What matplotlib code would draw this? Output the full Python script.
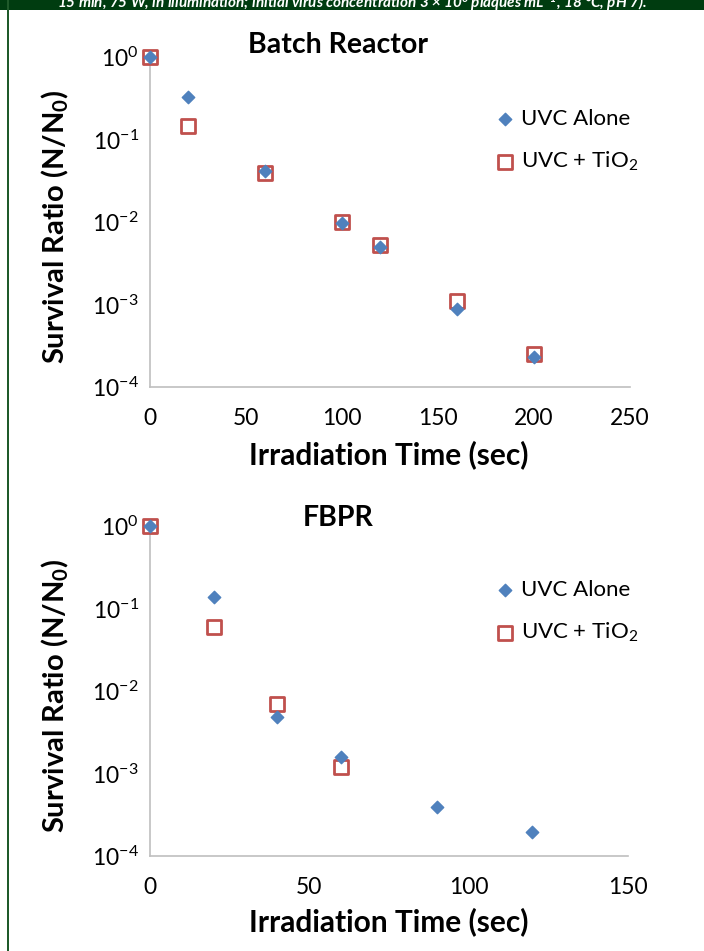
import matplotlib
matplotlib.use("Agg")
import matplotlib.pyplot as plt
from matplotlib.patches import Rectangle
from matplotlib.ticker import LogLocator, NullLocator

plt.rcParams['font.family'] = ['Lato', 'DejaVu Sans']
plt.rcParams['mathtext.fontset'] = 'custom'
plt.rcParams['mathtext.rm'] = 'Lato'
plt.rcParams['mathtext.default'] = 'regular'

# batch reactor data (survival ratio N/N0)
batch_time = [0, 20, 60, 100, 120, 160, 200]
batch_uvc = [1.0, 0.327, 0.0415, 0.0097, 0.00498, 0.00088, 0.000231]
batch_tio2 = [1.0, 0.146, 0.039, 0.0100, 0.00526, 0.0011, 0.00025]

# FBPR data
fbpr_time_uvc = [0, 20, 40, 60, 90, 120]
fbpr_uvc = [1.0, 0.138, 0.00484, 0.00158, 0.000393, 0.000195]
fbpr_time_tio2 = [0, 20, 40, 60]
fbpr_tio2 = [1.0, 0.0597, 0.00695, 0.0012]

blue = "#4F81BD"
red = "#C0504D"
grey = "#BFBFBF"

fig = plt.figure(figsize=(7.04, 9.51), dpi=100)
fig.patch.set_facecolor("white")

# dark green band and border from the page
fig.patches.append(Rectangle((0, 1 - 10/951), 1, 10/951, transform=fig.transFigure,
                             facecolor="#003C10", edgecolor="none", zorder=0))
fig.patches.append(Rectangle((7/704, 0), 2/704, 1, transform=fig.transFigure,
                             facecolor="#1F5A2A", edgecolor="none", zorder=0))
fig.text(0.5, 1 - 3/951, "15 min, 75 W, in illumination; initial virus concentration 3 \u00d7 10$^6$ plaques mL$^{-1}$, 18 \u00b0C, pH 7).",
         color="white", fontsize=11, fontweight="bold", style="italic",
         ha="center", va="center", clip_on=True)


def make_panel(rect, xmax, title, title_y, xlabel_y, ylabel_y):
    ax = fig.add_axes(rect)
    ax.set_yscale("log")
    ax.set_ylim(1e-4, 1)
    ax.set_xlim(0, xmax)
    ax.yaxis.set_major_locator(LogLocator(base=10, numticks=10))
    ax.yaxis.set_minor_locator(NullLocator())
    for s in ["top", "right"]:
        ax.spines[s].set_visible(False)
    for s in ["left", "bottom"]:
        ax.spines[s].set_color(grey)
        ax.spines[s].set_linewidth(1.2)
    ax.tick_params(axis="both", length=0, labelsize=16.5)
    ax.tick_params(axis="x", pad=15)
    ax.tick_params(axis="y", pad=8)
    fig.text(338/704, 1 - title_y/951, title, fontsize=20.5, fontweight="bold",
             ha="center", va="center")
    fig.text(389/704, 1 - xlabel_y/951, "Irradiation Time (sec)", fontsize=21.5,
             fontweight="bold", ha="center", va="center")
    fig.text(55/704, 1 - ylabel_y/951, "Survival Ratio (N/N$_0$)", fontsize=21,
             fontweight="bold", ha="center", va="center", rotation=90)
    return ax


ax1 = make_panel([150/704, 1 - 387/951, 480/704, 330/951], 250,
                 "Batch Reactor", 45, 455, 227)
ax1.set_xticks([0, 50, 100, 150, 200, 250])
ax1.scatter(batch_time, batch_tio2, marker="s", s=90, facecolor="white",
            edgecolor=red, linewidth=2, zorder=3, clip_on=False, label="UVC + TiO$_2$")
ax1.scatter(batch_time, batch_uvc, marker="D", s=40, color=blue, zorder=4,
            clip_on=False, label="UVC Alone")

ax2 = make_panel([150/704, 1 - 856/951, 478/704, 330/951], 150,
                 "FBPR", 518, 922, 696)
ax2.set_xticks([0, 50, 100, 150])
ax2.scatter(fbpr_time_tio2, fbpr_tio2, marker="s", s=90, facecolor="white",
            edgecolor=red, linewidth=2, zorder=3, clip_on=False, label="UVC + TiO$_2$")
ax2.scatter(fbpr_time_uvc, fbpr_uvc, marker="D", s=40, color=blue, zorder=4,
            clip_on=False, label="UVC Alone")

for ax, ly in [(ax1, 141), (ax2, 612)]:
    h, l = ax.get_legend_handles_labels()
    fig.legend(h[::-1], l[::-1], loc="center left",
               bbox_to_anchor=(481/704, 1 - ly/951), frameon=False,
               fontsize=16, handletextpad=0.1, labelspacing=0.95,
               handlelength=1.2, borderpad=0)

fig.savefig("out.png", dpi=100)
